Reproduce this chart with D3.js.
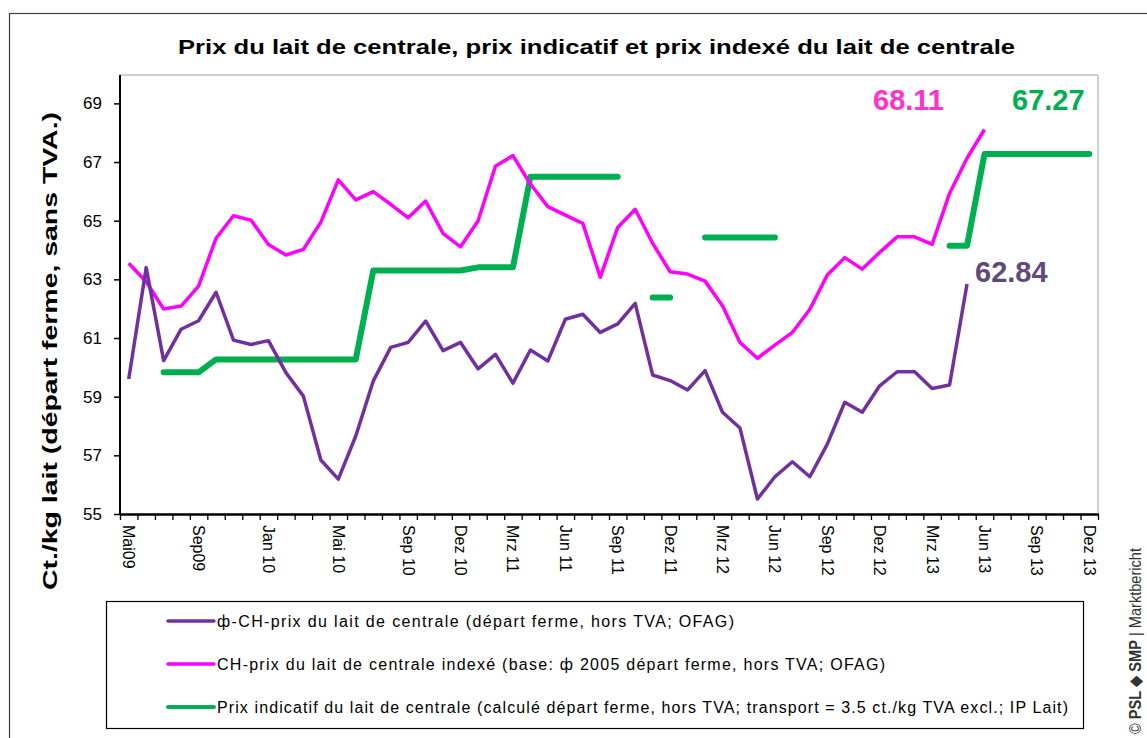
<!DOCTYPE html>
<html>
<head>
<meta charset="utf-8">
<script src="https://cdn.jsdelivr.net/npm/d3@7"></script>
<style>
  body { margin: 0; background: #fff; }
  svg { display: block; font-family: "Liberation Sans", Arial, sans-serif; }
</style>
</head>
<body>
<svg id="chart"></svg>
<script>
const width = 1147;
const height = 738;

// Catégories (mois)
const months = [
  "Mai09", "Jun09", "Jul09", "Aug09", "Sep09", "Okt09", "Nov09", "Dez09",
  "Jan 10", "Feb 10", "Mrz 10", "Apr 10", "Mai 10", "Jun 10", "Jul 10", "Aug 10", "Sep 10", "Okt 10", "Nov 10", "Dez 10",
  "Jan 11", "Feb 11", "Mrz 11", "Apr 11", "Mai 11", "Jun 11", "Jul 11", "Aug 11", "Sep 11", "Okt 11", "Nov 11", "Dez 11",
  "Jan 12", "Feb 12", "Mrz 12", "Apr 12", "Mai 12", "Jun 12", "Jul 12", "Aug 12", "Sep 12", "Okt 12", "Nov 12", "Dez 12",
  "Jan 13", "Feb 13", "Mrz 13", "Apr 13", "Mai 13", "Jun 13", "Jul 13", "Aug 13", "Sep 13", "Okt 13", "Nov 13", "Dez 13"
];
const shownLabels = ["Mai09", "Sep09", "Jan 10", "Mai 10", "Sep 10", "Dez 10", "Mrz 11", "Jun 11", "Sep 11",
  "Dez 11", "Mrz 12", "Jun 12", "Sep 12", "Dez 12", "Mrz 13", "Jun 13", "Sep 13", "Dez 13"];
const yTicks = [55, 57, 59, 61, 63, 65, 67, 69];

// ф-CH-prix du lait de centrale (Mai09 - Mai13)
const prixCentrale = [
  59.6, 63.4, 60.23, 61.3, 61.59, 62.56, 60.93, 60.78, 60.91, 59.82, 59.02, 56.84, 56.19, 57.66, 59.53, 60.68,
  60.85, 61.58, 60.57, 60.85, 59.95, 60.44, 59.46, 60.59, 60.22, 61.64, 61.81, 61.19, 61.48, 62.18, 59.74, 59.55,
  59.23, 59.89, 58.47, 57.93, 55.51, 56.27, 56.78, 56.27, 57.38, 58.81, 58.47, 59.37, 59.85, 59.85, 59.28, 59.4, 62.84
];
// CH-prix indexé (Mai09 - Jun13)
const prixIndexe = [
  63.55, 62.92, 61.99, 62.09, 62.77, 64.4, 65.17, 65.02, 64.19, 63.83, 64.02, 64.95, 66.39, 65.71, 65.99, 65.56,
  65.1, 65.67, 64.57, 64.11, 64.99, 66.86, 67.22, 66.25, 65.48, 65.19, 64.91, 63.07, 64.77, 65.39, 64.23, 63.26,
  63.18, 62.94, 62.1, 60.85, 60.31, 60.76, 61.19, 61.98, 63.15, 63.74, 63.35, 63.92, 64.45, 64.45, 64.19, 65.93,
  67.13, 68.11
];
// Prix indicatif (null = pas de valeur)
const prixIndicatif = [
  null, null, 59.83, 59.83, 59.83, 60.27, 60.27, 60.27, 60.27, 60.27, 60.27, 60.27, 60.27, 60.27, 63.3, 63.3,
  63.3, 63.3, 63.3, 63.3, 63.41, 63.41, 63.41, 66.5, 66.5, 66.5, 66.5, 66.5, 66.5, null, 62.38, 62.38,
  null, 64.43, 64.43, 64.43, 64.43, 64.43, null, null, null, null, null, null, null, null, null, 64.15,
  64.15, 67.27, 67.27, 67.27, 67.27, 67.27, 67.27, 67.27
];

const legendLabels = [
  "ф-CH-prix du lait de centrale (départ ferme,  hors TVA;  OFAG)",
  "CH-prix du lait de centrale indexé (base: ф 2005 départ ferme,  hors TVA;  OFAG)",
  "Prix indicatif du lait de centrale (calculé départ ferme,  hors TVA; transport = 3.5 ct./kg TVA excl.; IP Lait)"
];
const legendWidths = [517, 668, 851];

const purple = "#7030A0";
const magenta = "#FF00FF";
const green = "#00B050";

const svg = d3.select("#chart")
  .attr("width", width)
  .attr("height", height);

// cadre extérieur
svg.append("rect")
  .attr("x", 9.5).attr("y", 13.5)
  .attr("width", 1200).attr("height", 800)
  .attr("fill", "none").attr("stroke", "#404040").attr("stroke-width", 1.2);

const plot = { left: 120, right: 1098, top: 75, bottom: 514 };

const x = d3.scaleBand()
  .domain(months)
  .range([plot.left, plot.right]);
const xc = m => x(m) + x.bandwidth() / 2;

const y = d3.scaleLinear()
  .domain([55, 70])
  .range([plot.bottom, plot.bottom - 15 * 29.33]);

// cadre de la zone de tracé
svg.append("path")
  .attr("d", `M${plot.left},${plot.top}H${plot.right}V${plot.bottom}`)
  .attr("fill", "none").attr("stroke", "#a0a0a0").attr("stroke-width", 1);

// titre
svg.append("text")
  .attr("x", 596.5).attr("y", 54)
  .attr("text-anchor", "middle")
  .attr("font-weight", "bold")
  .attr("font-size", 21)
  .attr("textLength", 837)
  .attr("lengthAdjust", "spacingAndGlyphs")
  .text("Prix du lait de centrale, prix indicatif et prix indexé du lait de centrale");

// axe Y
const yAxis = svg.append("g")
  .attr("transform", `translate(${plot.left},0)`)
  .call(d3.axisLeft(y).tickValues(yTicks).tickSize(6).tickPadding(12).tickSizeOuter(0));
yAxis.select(".domain").remove();
yAxis.append("line")
  .attr("y1", plot.top).attr("y2", plot.bottom)
  .attr("stroke", "#000").attr("stroke-width", 2);
yAxis.selectAll(".tick line").attr("stroke-width", 1.5);
yAxis.selectAll(".tick text")
  .attr("font-size", 17)
  .attr("font-family", "Liberation Sans, Arial, sans-serif")
  .attr("fill", "#000");

svg.append("text")
  .attr("transform", `translate(57,351) rotate(-90)`)
  .attr("text-anchor", "middle")
  .attr("font-weight", "bold")
  .attr("font-size", 21)
  .attr("textLength", 478)
  .attr("lengthAdjust", "spacingAndGlyphs")
  .text("Ct./kg lait (départ ferme, sans TVA.)");

// axe X : graduations entre les catégories
const xBounds = d3.scaleLinear().domain([0, months.length]).range([plot.left, plot.right]);
const xAxis = svg.append("g")
  .attr("transform", `translate(0,${plot.bottom})`)
  .call(d3.axisBottom(xBounds).tickValues(d3.range(months.length + 1)).tickFormat("").tickSize(6).tickSizeOuter(0));
xAxis.select(".domain").attr("stroke-width", 2.5);
xAxis.selectAll(".tick line").attr("stroke-width", 1.3);

svg.append("g")
  .selectAll("text")
  .data(shownLabels)
  .join("text")
  .attr("transform", d => `translate(${xc(d)},525) rotate(90)`)
  .attr("dominant-baseline", "central")
  .attr("font-size", 16)
  .text(d => d);

// lignes
const line = d3.line()
  .defined(d => d != null)
  .x((d, i) => xc(months[i]))
  .y(d => y(d));

svg.append("path")
  .datum(prixIndicatif)
  .attr("d", line)
  .attr("fill", "none").attr("stroke", green)
  .attr("stroke-width", 6).attr("stroke-linecap", "round").attr("stroke-linejoin", "round");

svg.append("path")
  .datum(prixIndexe)
  .attr("d", line)
  .attr("fill", "none").attr("stroke", magenta)
  .attr("stroke-width", 3.5).attr("stroke-linejoin", "round");

svg.append("path")
  .datum(prixCentrale)
  .attr("d", line)
  .attr("fill", "none").attr("stroke", purple)
  .attr("stroke-width", 3.5).attr("stroke-linejoin", "round");

// valeurs finales
const endLabels = [
  { text: "68.11", x: 873, y: 110, color: "#FF33CC" },
  { text: "67.27", x: 1012, y: 110, color: green },
  { text: "62.84", x: 975, y: 282, color: "#604A7B" }
];
svg.append("g")
  .selectAll("text")
  .data(endLabels)
  .join("text")
  .attr("x", d => d.x).attr("y", d => d.y)
  .attr("font-weight", "bold")
  .attr("font-size", 29)
  .attr("fill", d => d.color)
  .text(d => d.text);

// légende
const legend = svg.append("g");
legend.append("rect")
  .attr("x", 106.5).attr("y", 601.5)
  .attr("width", 977).attr("height", 127)
  .attr("fill", "#fff").attr("stroke", "#000").attr("stroke-width", 1.2);

const legendColors = [purple, magenta, green];
const legendItems = legend.selectAll("g.item")
  .data(legendLabels)
  .join("g")
  .attr("class", "item")
  .attr("transform", (d, i) => `translate(0,${621 + i * 43})`);
legendItems.append("line")
  .attr("x1", 168).attr("x2", 214)
  .attr("stroke", (d, i) => legendColors[i])
  .attr("stroke-width", (d, i) => i === 2 ? 4 : 3.5)
  .attr("stroke-linecap", "round");
legendItems.append("text")
  .attr("x", 217)
  .attr("dominant-baseline", "central")
  .attr("font-size", 16)
  .attr("textLength", (d, i) => legendWidths[i])
  .attr("lengthAdjust", "spacing")
  .text(d => d);

// copyright vertical
const copy = svg.append("text")
  .attr("transform", "translate(1141,734) rotate(-90)")
  .attr("font-size", 17)
  .attr("textLength", 186)
  .attr("lengthAdjust", "spacingAndGlyphs")
  .attr("fill", "#333");
copy.append("tspan").text("© ");
copy.append("tspan").attr("font-weight", "bold").text("PSL");
copy.append("tspan").text(" ◆ ");
copy.append("tspan").attr("font-weight", "bold").text("SMP");
copy.append("tspan").text(" | Marktbericht");
</script>
</body>
</html>
